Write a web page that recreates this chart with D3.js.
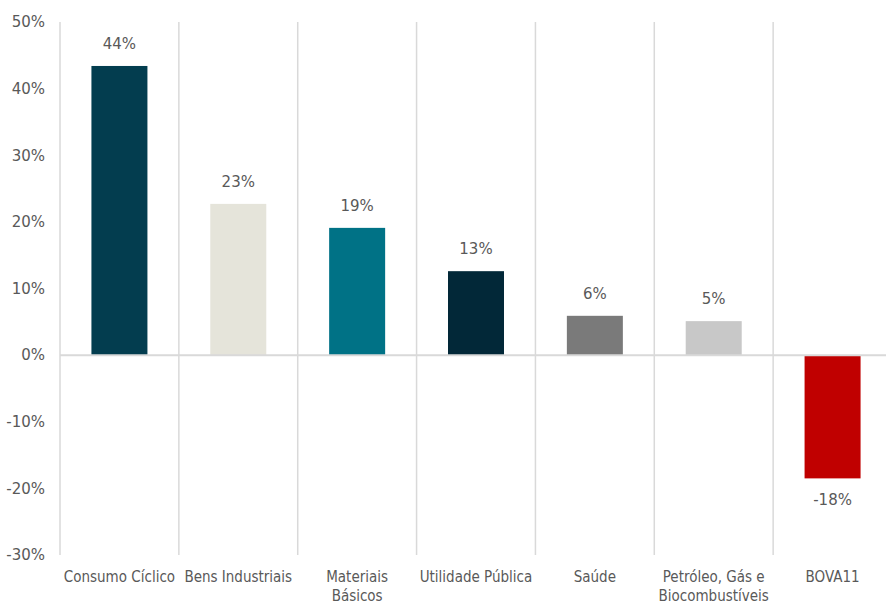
<!DOCTYPE html>
<html><head><meta charset="utf-8">
<script src="https://cdn.jsdelivr.net/npm/d3@7/dist/d3.min.js"></script>
<style>body{margin:0;background:#fff;}svg{display:block;}text{font-family:"DejaVu Sans Condensed","DejaVu Sans",sans-serif;}.num{font-family:"DejaVu Sans",sans-serif;}</style>
</head><body><svg id="c" width="886" height="605"></svg>
<script>
const categories = [["Consumo Cíclico"],["Bens Industriais"],["Materiais","Básicos"],["Utilidade Pública"],["Saúde"],["Petróleo, Gás e","Biocombustíveis"],["BOVA11"]];
const values = [43.4, 22.7, 19.1, 12.6, 5.9, 5.1, -18.5];
const valueLabels = ["44%","23%","19%","13%","6%","5%","-18%"];
const colors = ["#033d4f","#e5e4da","#007286","#022838","#7a7a7a","#c8c8c8","#c00000"];
const yTicks = [-30,-20,-10,0,10,20,30,40,50];

(function(){
const svg = d3.select("#c");
const mLeft = 60, mRight = 892, mTop = 22, mBottom = 555;
const x = d3.scaleBand().domain(d3.range(values.length)).range([mLeft, mRight]).paddingInner(0).paddingOuter(0);
const y = d3.scaleLinear().domain([-30, 50]).range([mBottom, mTop]);
const barW = 56;

svg.append("g").selectAll("line").data(d3.range(values.length)).join("line")
  .attr("x1", i => x(i)).attr("x2", i => x(i))
  .attr("y1", mTop).attr("y2", mBottom)
  .attr("stroke", "#d9d9d9").attr("stroke-width", 1.5);

svg.append("g").selectAll("text").data(yTicks).join("text")
  .attr("class", "num")
  .attr("x", 45).attr("y", d => y(d)).attr("dy", "0.35em")
  .attr("text-anchor", "end").attr("font-size", 15).attr("fill", "#595959")
  .text(d => d + "%");

svg.append("g").selectAll("rect").data(values).join("rect")
  .attr("x", (d, i) => x(i) + (x.bandwidth() - barW) / 2)
  .attr("width", barW)
  .attr("y", d => y(Math.max(d, 0)))
  .attr("height", d => Math.abs(y(d) - y(0)))
  .attr("fill", (d, i) => colors[i]);

svg.append("line").attr("x1", mLeft).attr("x2", 886).attr("y1", y(0)).attr("y2", y(0))
  .attr("stroke", "#d9d9d9").attr("stroke-width", 2);

svg.append("g").selectAll("text").data(values).join("text")
  .attr("class", "num")
  .attr("x", (d, i) => x(i) + x.bandwidth() / 2)
  .attr("y", d => d >= 0 ? y(d) - 22 : y(d) + 21)
  .attr("dy", "0.35em")
  .attr("text-anchor", "middle").attr("font-size", 15).attr("fill", "#595959")
  .text((d, i) => valueLabels[i]);

const cg = svg.append("g").selectAll("text").data(categories).join("text")
  .attr("x", (d, i) => x(i) + x.bandwidth() / 2)
  .attr("y", 577)
  .attr("text-anchor", "middle").attr("font-size", 15).attr("fill", "#595959");
cg.selectAll("tspan").data(d => d).join("tspan")
  .attr("x", function(){ return d3.select(this.parentNode).attr("x"); })
  .attr("dy", (d, j) => j === 0 ? "0.35em" : "1.25em")
  .text(d => d);
})();
</script></body></html>
